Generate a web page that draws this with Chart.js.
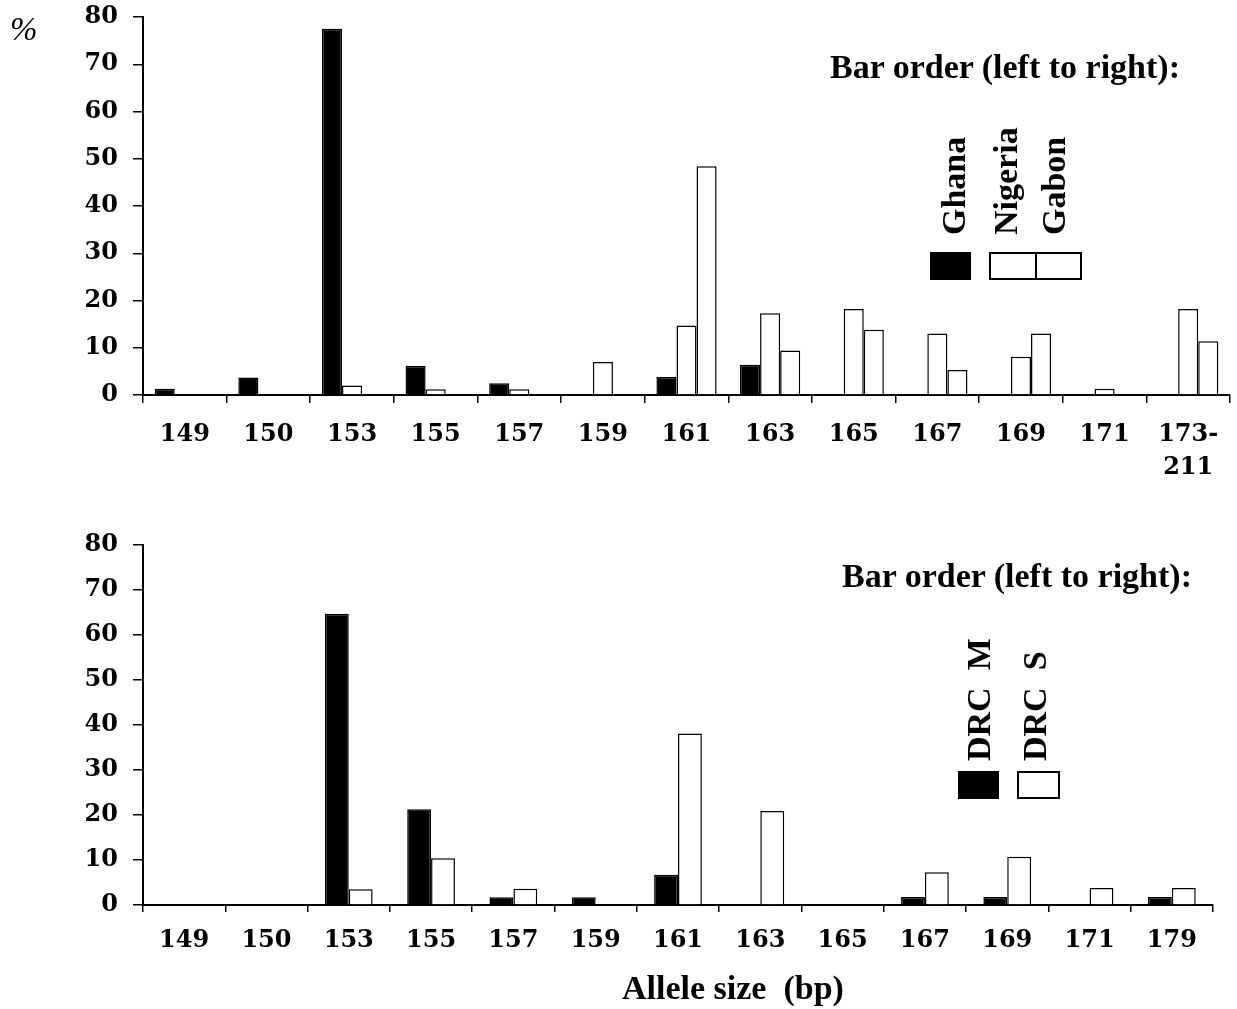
<!DOCTYPE html>
<html>
<head>
<meta charset="utf-8">
<script src="https://cdn.jsdelivr.net/npm/chart.js@4.4.1/dist/chart.umd.min.js"></script>
<style>
  body { margin: 0; background: #fff; }
  #page { position: relative; width: 1237px; height: 1009px; overflow: hidden; background: #fff; }
  canvas { position: absolute; left: 0; }
  .txt { position: absolute; font-family: "Liberation Serif", serif; font-weight: bold; font-size: 34px; line-height: 34px; white-space: pre; color: #000; }
  .rot { transform-origin: left top; transform: rotate(-90deg); }
  .box { position: absolute; box-sizing: border-box; }
</style>
</head>
<body>
<div id="page">
  <canvas id="topChart" width="1237" height="503" style="top:-13px"></canvas>
  <canvas id="bottomChart" width="1237" height="499" style="top:510px"></canvas>

  <div class="txt" style="left:10px;top:13px;font-weight:normal;font-style:italic;font-size:33px;line-height:33px">%</div>

  <!-- top legend -->
  <div class="txt" style="left:830px;top:50px">Bar order (left to right):</div>
  <div class="txt rot" style="left:937px;top:235px">Ghana</div>
  <div class="txt rot" style="left:989px;top:235px">Nigeria</div>
  <div class="txt rot" style="left:1037px;top:235px">Gabon</div>
  <div class="box" style="left:930px;top:252px;width:41px;height:28px;background:#000"></div>
  <div class="box" style="left:989px;top:252px;width:48px;height:28px;border:2px solid #000"></div>
  <div class="box" style="left:1035px;top:252px;width:47px;height:28px;border:2px solid #000"></div>

  <!-- bottom legend -->
  <div class="txt" style="left:842px;top:559px">Bar order (left to right):</div>
  <div class="txt rot" style="left:962px;top:761px">DRC  M</div>
  <div class="txt rot" style="left:1018px;top:761px">DRC  S</div>
  <div class="box" style="left:958px;top:771px;width:41px;height:28px;background:#000"></div>
  <div class="box" style="left:1017px;top:771px;width:43px;height:28px;border:2px solid #000"></div>

  <div class="txt" style="left:622px;top:971px">Allele size  (bp)</div>
</div>

<script>
// top panel: West/Central Africa
let topLabels = ['149', '150', '153', '155', '157', '159', '161', '163', '165', '167', '169', '171', ['173-', '211']];
let ghana   = [1.3, 3.7, 77.5, 6.2, 2.5, 0, 3.8, 6.4, 0, 0, 0, 0, 0];
let nigeria = [0, 0, 2.0, 1.2, 1.2, 7.0, 14.7, 17.3, 18.2, 13.0, 8.1, 1.3, 18.2];
let gabon   = [0, 0, 0, 0, 0, 0, 48.4, 9.4, 13.8, 5.3, 13.0, 0, 11.4];

// bottom panel: DRC
let bottomLabels = ['149', '150', '153', '155', '157', '159', '161', '163', '165', '167', '169', '171', '179'];
let drcM = [0, 0, 64.7, 21.3, 1.7, 1.7, 6.7, 0, 0, 1.8, 1.8, 0, 1.8];
let drcS = [0, 0, 3.5, 10.4, 3.6, 0, 38.1, 20.9, 0, 7.3, 10.7, 3.8, 3.8];

let yTicks = [0, 10, 20, 30, 40, 50, 60, 70, 80];

let tickFont = { family: 'DejaVu Serif', weight: 'bold', size: 24, lineHeight: 1.37 };

function blackBars(values) {
  return { data: values, backgroundColor: '#000', borderColor: '#000', borderWidth: 1.5 };
}
function whiteBars(values) {
  return { data: values, backgroundColor: '#fff', borderColor: '#000', borderWidth: 1.5 };
}

function makeOptions(yWidth, xHeight, padding, catPct, tickLen, labelPad) {
  return {
    responsive: false,
    animation: false,
    layout: { padding: padding },
    plugins: { legend: { display: false }, tooltip: { enabled: false } },
    scales: {
      x: {
        offset: true,
        grid: { display: true, offset: true, drawOnChartArea: false, drawTicks: true, tickLength: tickLen, color: '#000', lineWidth: 1.5 },
        border: { display: true, color: '#000', width: 2 },
        ticks: { color: '#000', font: tickFont, padding: labelPad, maxRotation: 0, autoSkip: false },
        afterFit: function(scale) { scale.height = xHeight; }
      },
      y: {
        min: 0,
        max: 80,
        afterBuildTicks: function(scale) { scale.ticks = yTicks.map(v => ({ value: v })); },
        grid: { display: true, drawOnChartArea: false, drawTicks: true, tickLength: 10, color: '#000', lineWidth: 1.5 },
        border: { display: true, color: '#000', width: 2 },
        ticks: { color: '#000', font: { family: 'DejaVu Serif', weight: 'bold', size: 24 }, padding: 15 },
        afterFit: function(scale) { scale.width = yWidth; }
      }
    },
    datasets: { bar: { categoryPercentage: catPct, barPercentage: 1.0 } }
  };
}

var topChart = new Chart(document.getElementById('topChart').getContext('2d'), {
  type: 'bar',
  data: {
    labels: topLabels,
    datasets: [blackBars(ghana), whiteBars(nigeria), whiteBars(gabon)]
  },
  options: makeOptions(143, 95, { left: 0, top: 30, right: 7, bottom: 0 }, 0.72, 8, 15)
});

var bottomChart = new Chart(document.getElementById('bottomChart').getContext('2d'), {
  type: 'bar',
  data: {
    labels: bottomLabels,
    datasets: [blackBars(drcM), whiteBars(drcS)]
  },
  options: makeOptions(143, 104, { left: 0, top: 35, right: 24, bottom: 0 }, 0.58, 7, 12)
});
</script>
</body>
</html>
